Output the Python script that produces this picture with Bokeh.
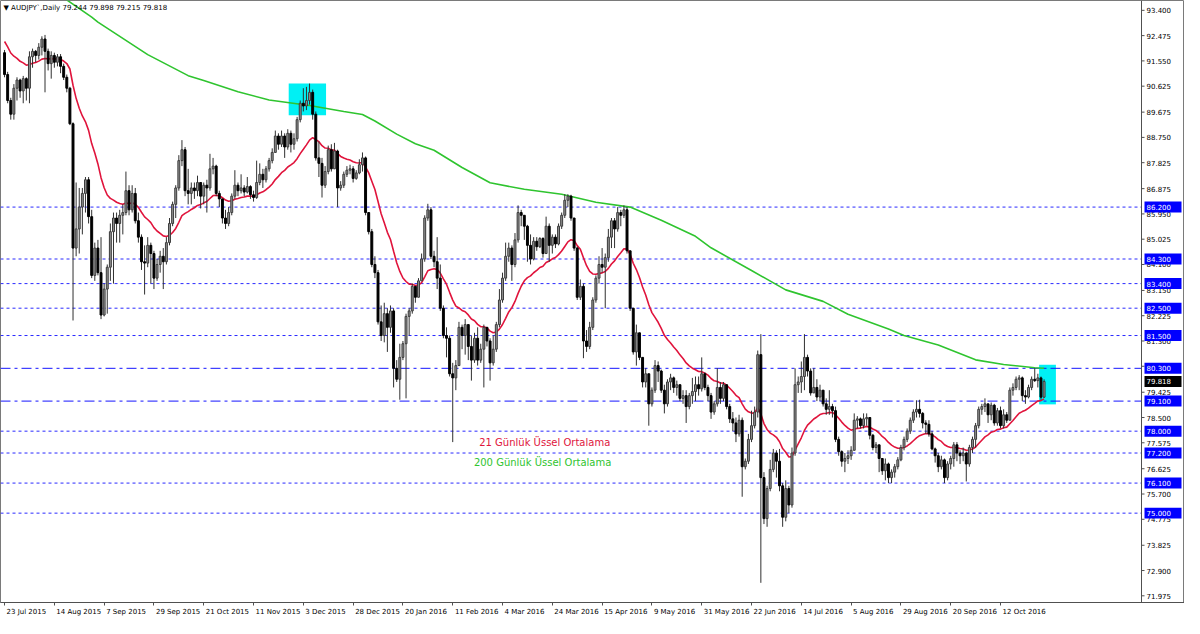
from bokeh.plotting import figure
from bokeh.models import ColumnDataSource, FixedTicker, Label, Range1d
from bokeh.embed import file_html
from bokeh.resources import INLINE
from bokeh.core.properties import value

# ---------------- data ----------------
first_open = 91.85
closes = [
    91.05, 90.10, 89.60, 90.55, 90.85, 90.45, 90.90, 90.55, 91.70, 91.90,
    91.75, 92.05, 92.35, 91.90, 91.45, 91.75, 91.50, 91.70, 91.35, 90.95,
    90.55, 89.25, 84.70, 85.40, 86.20, 86.70, 87.20, 85.85, 83.70, 84.70,
    83.80, 82.25, 83.20, 84.00, 85.30, 85.80, 85.60, 85.90, 86.00, 86.80,
    86.10, 86.70, 85.70, 85.10, 84.20, 84.15, 84.80, 84.50, 83.60, 84.10,
    84.40, 84.20, 84.90, 85.60, 86.30, 86.90, 87.90, 88.30, 86.80, 86.70,
    86.90, 86.80, 87.10, 86.60, 87.00, 86.90, 87.60, 87.70, 86.70, 86.50,
    85.80, 85.60, 86.00, 86.60, 87.00, 86.80, 86.90, 86.75, 86.95, 86.65,
    86.55, 87.10, 87.40, 87.20, 87.60, 87.90, 88.20, 88.80, 88.50, 88.80,
    88.40, 88.90, 88.50, 88.70, 89.40, 90.00, 89.90, 90.10, 90.40, 89.60,
    88.00, 87.80, 87.00, 87.50, 88.30, 87.60, 88.25, 86.90, 87.00, 87.40,
    87.55, 87.60, 87.25, 87.45, 87.75, 88.00, 86.00, 85.30, 84.10, 83.80,
    82.00, 81.50, 82.30, 81.80, 82.40, 80.30, 79.90, 80.70, 81.20, 82.20,
    82.40, 83.30, 82.90, 83.50, 84.30, 85.80, 86.10, 84.40, 84.20, 83.60,
    82.50, 81.50, 81.40, 80.10, 79.95, 80.40, 81.80, 81.50, 81.90, 81.10,
    80.60, 81.40, 80.60, 81.00, 81.80, 81.30, 80.50, 81.00, 81.90, 82.80,
    83.60, 84.40, 84.70, 84.10, 85.00, 86.00, 85.90, 85.50, 84.80, 84.30,
    84.95, 84.75, 85.05, 84.50, 85.50, 84.80, 85.10, 84.85, 85.50, 85.90,
    86.45, 86.60, 85.80, 84.70, 82.90, 83.30, 81.30, 81.10, 81.80, 82.80,
    83.60, 84.10, 84.00, 84.35, 85.10, 85.70, 85.40, 86.00, 85.90, 86.10,
    84.60, 82.50, 80.90, 81.60, 80.70, 79.80, 80.10, 79.00, 79.50, 80.40,
    80.20, 79.50, 79.00, 79.80, 79.95, 79.60, 79.70, 79.20, 79.30, 78.90,
    79.30, 79.45, 79.70, 79.55, 80.10, 79.60, 79.30, 78.70, 79.00, 79.60,
    79.20, 79.70, 78.90, 78.45, 78.30, 77.90, 78.40, 76.70, 76.90, 77.70,
    78.20, 78.70, 80.80, 76.30, 74.80, 75.90, 76.60, 77.20, 76.90, 76.00,
    74.85, 75.90, 75.30, 77.20, 79.70, 79.80, 80.00, 80.70, 80.20, 79.40,
    79.60, 79.25, 79.50, 79.00, 78.80, 78.90, 78.75, 77.70, 77.25, 76.90,
    77.00, 77.10, 77.30, 78.40, 78.45, 78.20, 78.45, 78.50, 77.85, 77.40,
    77.50, 77.00, 76.55, 76.80, 76.30, 76.50, 76.70, 76.95, 77.40, 77.70,
    78.00, 78.40, 78.70, 78.80, 78.65, 78.30, 78.25, 77.90, 77.35, 77.10,
    76.70, 76.95, 76.30, 76.80, 77.00, 77.50, 77.20, 77.10, 77.20, 76.80,
    77.40, 77.70, 78.20, 78.80, 78.90, 79.00, 78.60, 78.95, 78.30, 78.75,
    78.20, 78.60, 78.40, 79.50, 79.60, 79.90, 79.95, 79.30, 79.25, 79.60,
    79.90, 79.85, 79.95, 79.244, 79.818,
]
highs = [
    91.95, 91.15, 90.20, 90.70, 90.95, 90.90, 91.00, 90.95, 91.90, 92.00,
    91.95, 92.20, 92.45, 92.50, 92.00, 91.90, 91.85, 91.80, 91.80, 91.45,
    91.05, 90.60, 89.30, 87.10, 86.90, 86.90, 87.30, 87.30, 86.10, 84.90,
    85.00, 85.10, 83.40, 84.10, 85.60, 86.00, 86.00, 86.10, 86.30, 87.50,
    87.00, 87.00, 86.90, 86.00, 85.20, 84.80, 85.10, 84.90, 84.60, 84.30,
    84.60, 84.70, 85.10, 85.80, 86.40, 87.00, 88.10, 88.65, 88.40, 87.60,
    87.10, 87.10, 87.35, 87.10, 87.10, 87.20, 88.15, 88.00, 87.75, 86.80,
    86.50, 86.10, 86.20, 86.70, 87.55, 87.10, 87.40, 87.00, 87.30, 87.00,
    86.80, 87.90, 87.80, 87.60, 87.70, 88.00, 88.35, 89.00, 88.90, 89.00,
    88.90, 89.05, 89.00, 88.90, 89.50, 90.10, 90.55, 90.60, 90.72, 90.50,
    89.70, 88.60, 88.00, 87.70, 88.45, 88.50, 88.55, 88.30, 87.15, 87.50,
    87.70, 87.75, 87.70, 87.55, 87.95, 88.20, 88.05, 86.00, 85.40, 84.40,
    83.90, 82.60, 82.70, 82.50, 82.60, 82.50, 80.60, 81.20, 81.30, 82.30,
    82.50, 83.40, 83.30, 83.60, 84.50, 85.90, 86.32, 86.20, 84.60, 85.10,
    84.10, 82.60, 81.80, 81.50, 80.50, 80.60, 82.00, 81.90, 82.10, 81.90,
    81.50, 81.60, 81.80, 81.20, 81.90, 81.80, 81.40, 81.50, 82.00, 83.20,
    83.80, 84.90, 84.90, 84.80, 85.25, 86.26, 86.10, 85.90, 85.55, 85.20,
    85.10, 85.10, 85.10, 85.10, 85.85, 85.60, 85.20, 85.20, 85.60, 86.00,
    86.67, 86.67, 86.65, 85.80, 84.75, 83.55, 83.40, 81.70, 82.00, 82.90,
    83.70, 84.40, 84.70, 84.50, 85.40, 85.80, 85.80, 86.20, 86.10, 86.26,
    86.20, 84.60, 82.50, 81.90, 81.60, 80.70, 80.30, 80.10, 79.60, 80.60,
    80.55, 80.25, 79.70, 79.90, 80.10, 80.00, 79.85, 79.70, 79.50, 79.50,
    79.40, 79.95, 80.00, 80.00, 80.70, 80.15, 79.70, 79.40, 79.10, 80.30,
    79.80, 79.80, 79.70, 79.00, 78.70, 78.50, 78.60, 78.50, 77.00, 77.90,
    78.75, 78.90, 80.95, 81.55, 76.50, 76.00, 76.95, 77.35, 77.30, 77.35,
    76.10, 76.20, 76.00, 77.40, 80.30, 80.00, 80.55, 81.55, 80.80, 80.30,
    80.30, 79.90, 79.70, 79.50, 79.20, 79.50, 79.00, 78.90, 77.80, 77.30,
    77.20, 77.30, 77.45, 78.65, 78.55, 78.50, 78.65, 78.65, 78.50, 77.90,
    77.60, 77.50, 77.00, 77.00, 76.85, 76.60, 76.80, 77.05, 77.50, 77.80,
    78.10, 78.50, 78.80, 79.13, 79.15, 78.70, 78.40, 78.40, 78.00, 77.40,
    77.20, 77.10, 77.00, 76.90, 77.10, 77.60, 77.60, 77.30, 77.40, 77.25,
    77.50, 77.80, 78.30, 78.90, 79.00, 79.20, 79.00, 79.05, 79.00, 78.85,
    78.90, 78.80, 78.70, 79.60, 79.75, 80.00, 80.05, 80.00, 79.50, 79.70,
    80.00, 80.30, 80.10, 80.00, 79.898,
]
lows = [
    90.95, 90.00, 89.40, 89.40, 90.10, 90.20, 90.00, 90.10, 90.00, 91.30,
    91.50, 91.60, 91.75, 90.40, 91.20, 90.90, 91.30, 91.35, 91.10, 90.85,
    90.40, 89.20, 82.05, 84.40, 84.50, 85.20, 86.00, 85.60, 83.60, 83.50,
    83.70, 82.10, 82.20, 82.30, 83.50, 83.40, 84.90, 84.90, 85.20, 85.90,
    85.90, 86.00, 85.60, 84.90, 83.90, 83.00, 84.00, 83.40, 83.20, 83.50,
    83.80, 83.20, 84.10, 84.80, 85.50, 85.80, 86.80, 87.70, 86.60, 86.30,
    86.30, 86.50, 86.60, 86.15, 86.30, 86.00, 86.80, 87.40, 86.60, 86.20,
    85.60, 85.40, 85.50, 85.90, 86.50, 86.60, 86.70, 86.60, 86.70, 86.50,
    86.40, 86.50, 87.00, 86.90, 87.10, 87.50, 87.80, 88.20, 88.30, 88.40,
    88.00, 88.30, 88.20, 88.30, 88.60, 89.30, 89.70, 89.75, 89.95, 89.40,
    87.90, 87.30, 86.55, 86.90, 87.40, 87.50, 87.60, 86.20, 86.80, 86.90,
    87.30, 87.40, 87.10, 87.20, 87.40, 87.50, 85.90, 85.20, 84.00, 83.60,
    81.90, 81.30, 81.25, 80.90, 81.60, 79.60, 79.80, 79.15, 80.60, 79.20,
    81.50, 82.30, 82.70, 82.90, 83.50, 84.20, 85.70, 84.30, 84.00, 83.20,
    82.40, 81.40, 80.70, 80.00, 77.60, 79.50, 80.40, 81.00, 80.80, 80.60,
    79.85, 80.50, 80.40, 80.50, 79.60, 81.10, 79.85, 80.40, 80.90, 81.80,
    82.70, 83.50, 84.20, 83.50, 84.00, 84.90, 85.50, 85.00, 84.20, 84.10,
    84.25, 84.60, 84.70, 84.35, 84.50, 84.20, 84.50, 84.70, 84.80, 85.40,
    85.80, 86.20, 85.70, 84.60, 82.80, 82.80, 80.67, 80.90, 81.00, 81.70,
    82.70, 83.40, 83.80, 82.50, 84.20, 84.70, 84.70, 85.30, 85.50, 85.80,
    84.50, 82.40, 80.80, 80.40, 80.60, 79.60, 79.60, 78.20, 78.90, 79.40,
    79.80, 79.40, 78.65, 78.90, 79.50, 79.40, 79.30, 79.10, 79.00, 78.30,
    78.80, 79.00, 79.10, 79.30, 79.45, 79.50, 79.10, 78.45, 78.60, 78.90,
    79.00, 79.10, 78.80, 78.30, 78.00, 77.60, 77.80, 75.60, 76.60, 76.80,
    77.60, 78.10, 78.50, 72.45, 74.60, 74.50, 75.80, 76.50, 76.30, 75.80,
    74.50, 74.70, 75.00, 75.20, 77.10, 79.40, 79.40, 79.50, 80.00, 79.30,
    79.40, 79.10, 79.10, 78.90, 78.60, 78.60, 78.50, 77.60, 77.10, 76.70,
    76.50, 76.80, 76.95, 77.30, 78.10, 78.10, 78.10, 78.20, 77.70, 77.30,
    77.20, 76.50, 76.40, 76.20, 76.10, 76.10, 76.30, 76.60, 76.90, 77.30,
    77.60, 77.90, 78.30, 78.50, 78.50, 78.10, 77.90, 77.80, 77.30, 76.85,
    76.50, 76.60, 76.10, 76.20, 76.60, 76.70, 76.90, 76.80, 76.90, 76.16,
    76.70, 77.20, 77.40, 78.10, 78.60, 78.70, 78.30, 78.40, 78.20, 78.20,
    78.10, 78.10, 78.30, 78.40, 79.30, 79.50, 79.50, 79.10, 79.00, 79.20,
    79.50, 79.80, 79.60, 79.15, 79.215,
]

date_labels = ["23 Jul 2015", "14 Aug 2015", "7 Sep 2015", "29 Sep 2015", "21 Oct 2015",
               "11 Nov 2015", "3 Dec 2015", "28 Dec 2015", "20 Jan 2016", "11 Feb 2016",
               "4 Mar 2016", "24 Mar 2016", "15 Apr 2016", "9 May 2016", "31 May 2016",
               "22 Jun 2016", "14 Jul 2016", "5 Aug 2016", "29 Aug 2016", "20 Sep 2016",
               "12 Oct 2016"]
bars_per_label = 16

price_ticks = [93.400, 92.475, 91.550, 90.625, 89.675, 88.750, 87.825, 86.875, 85.950,
               85.025, 84.100, 83.150, 82.225, 81.300, 80.375, 79.425, 78.500, 77.575,
               76.625, 75.700, 74.775, 73.825, 72.900, 71.975]

dotted_levels = [86.2, 84.3, 83.4, 82.5, 81.5, 78.0, 77.2, 76.1, 75.0]
dashdot_levels = [80.3, 79.1]
last_price = 79.818

ema21_seed = 92.38
ema200_bars = [19, 28, 30, 46, 59, 64, 75, 85, 98, 109, 115, 119, 126, 132, 138, 147,
               156, 167, 179, 190, 201, 211, 222, 227, 240, 251, 263, 271, 284, 289,
               300, 312, 321, 331, 334]
ema200_vals = [93.86, 93.15, 92.97, 91.78, 91.01, 90.83, 90.42, 90.12, 89.92, 89.70,
               89.59, 89.35, 88.87, 88.52, 88.28, 87.65, 87.09, 86.85, 86.67, 86.38,
               86.20, 85.72, 85.13, 84.71, 83.88, 83.17, 82.75, 82.28, 81.74, 81.50,
               81.15, 80.61, 80.44, 80.32, 80.30]

zone_left = [91.3, 332.4]
zone_right = [103.3, 337.8]
zone_top = [90.72, 80.43]
zone_bottom = [89.56, 78.98]

header_text = "\u25bc AUDJPY`,Daily  79.244 79.898 79.215 79.818"
ema21_text = "21 G\u00fcnl\u00fck \u00dcssel Ortalama"
ema200_text = "200 G\u00fcnl\u00fck \u00dcssel Ortalama"

# ---------------- layout constants ----------------
W, H = 1184, 618
AXIS_PX = 1141            # x pixel (inside frame) of the price scale line
X0, XA = -1.3, 365.3      # bar coordinate at left frame edge and at the price scale line
PPU = AXIS_PX / (XA - X0)
X1 = X0 + W / PPU
Y0, Y1 = 71.73, 93.76
FRAME_H = H - 14
PPY = FRAME_H / (Y1 - Y0)
FONT = "DejaVu Sans"
SMALL = "7px"

# ---------------- derived ----------------
n = len(closes)
xs = list(range(n))
opens = [first_open] + closes[:-1]
tops, bots, fills, lines = [], [], [], []
for o, c in zip(opens, closes):
    t, b = max(o, c), min(o, c)
    if t - b < 0.025:
        t = b + 0.025
    tops.append(t)
    bots.append(b)
    if c >= o:
        fills.append("#929292"); lines.append("#3c3c3c")
    else:
        fills.append("#000000"); lines.append("#000000")

ema21 = []
e = ema21_seed
k = 2.0 / 22.0
for c in closes:
    e = e + k * (c - e)
    ema21.append(e)

src = ColumnDataSource(dict(x=xs, h=highs, l=lows, top=tops, bot=bots, fill=fills, line=lines))

p = figure(width=W, height=H, output_backend="svg", toolbar_location=None,
           x_range=Range1d(X0, X1), y_range=Range1d(Y0, Y1), y_axis_location=None,
           min_border_left=0, min_border_top=0, min_border_right=0, min_border_bottom=0)
p.background_fill_color = "white"
p.border_fill_color = "white"
p.outline_line_color = "#7a7a7a"
p.xgrid.visible = False
p.ygrid.visible = False

# highlight zones
p.quad(left=zone_left, right=zone_right, top=zone_top, bottom=zone_bottom,
       fill_color="#00f0f4", line_color=None)

# horizontal levels (stop at the price scale)
p.segment(x0=[X0] * len(dotted_levels), y0=dotted_levels, x1=[XA] * len(dotted_levels),
          y1=dotted_levels, line_color="#2a2aff", line_width=1, line_dash="3 3")
p.segment(x0=[X0] * len(dashdot_levels), y0=dashdot_levels, x1=[XA] * len(dashdot_levels),
          y1=dashdot_levels, line_color="#1515ff", line_width=1, line_dash="10 4 3 4")

# moving averages
p.line(ema200_bars, ema200_vals, line_color="#2fc42f", line_width=1.6)
p.line(xs, ema21, line_color="#e0143c", line_width=1.6)

# candles
p.segment(x0="x", y0="l", x1="x", y1="h", source=src, line_color="#303030", line_width=1)
p.vbar(x="x", width=0.62, top="top", bottom="bot", fill_color="fill", line_color="line",
       line_width=1, source=src)

# annotation texts
p.text(x=[152.5], y=[77.57], text=[ema21_text], text_color="#e0143c",
       text_font=value(FONT), text_font_size="10px", text_baseline="middle")
p.text(x=[150.8], y=[76.86], text=[ema200_text], text_color="#2fc42f",
       text_font=value(FONT), text_font_size="10px", text_baseline="middle")

p.add_layout(Label(x=X0, y=Y1, x_offset=3, y_offset=-7, text=header_text,
                   text_font=FONT, text_font_size=SMALL, text_color="black",
                   text_baseline="middle", text_align="left"))

# ---------------- price scale on the right ----------------
p.segment(x0=[XA], y0=[Y0], x1=[XA], y1=[Y1], line_color="#505050", line_width=1)
p.segment(x0=[XA] * len(price_ticks), y0=price_ticks,
          x1=[XA + 3 / PPU] * len(price_ticks), y1=price_ticks,
          line_color="#505050", line_width=1)
p.text(x=[XA + 5 / PPU] * len(price_ticks), y=price_ticks,
       text=[f"{t:.3f}" for t in price_ticks], text_color="black",
       text_font=value(FONT), text_font_size=SMALL, text_baseline="middle")

tag_levels = dotted_levels + dashdot_levels
tag_h = 5.5 / PPY
p.quad(left=[XA + 3 / PPU] * len(tag_levels), right=[XA + 40 / PPU] * len(tag_levels),
       top=[v + tag_h for v in tag_levels], bottom=[v - tag_h for v in tag_levels],
       fill_color="#0000ff", line_color=None)
p.text(x=[XA + 5 / PPU] * len(tag_levels), y=tag_levels,
       text=[f"{v:.3f}" for v in tag_levels], text_color="white",
       text_font=value(FONT), text_font_size=SMALL, text_baseline="middle")
p.quad(left=[XA + 3 / PPU], right=[XA + 40 / PPU], top=[last_price + tag_h],
       bottom=[last_price - tag_h], fill_color="#000000", line_color=None)
p.text(x=[XA + 5 / PPU], y=[last_price], text=[f"{last_price:.3f}"], text_color="white",
       text_font=value(FONT), text_font_size=SMALL, text_baseline="middle")

# ---------------- time scale ----------------
em = {"0": .636, "1": .636, "2": .636, "3": .636, "4": .636, "5": .636, "6": .636,
      "7": .636, "8": .636, "9": .636, " ": .318, "J": .295, "u": .634, "l": .278,
      "A": .684, "g": .635, "S": .635, "e": .615, "p": .635, "O": .787, "c": .55,
      "t": .392, "N": .748, "o": .612, "v": .592, "D": .77, "F": .575, "b": .635,
      "M": .863, "a": .613, "r": .411, "y": .592, "n": .634}
tick_pos = [i * bars_per_label for i in range(len(date_labels))]
centers = []
for t, lab in zip(tick_pos, date_labels):
    w = sum(em.get(ch, 0.6) for ch in lab) * 7.0
    centers.append(t + (w / 2 + 2) / PPU)

xax = p.xaxis[0]
xax.ticker = FixedTicker(ticks=centers, minor_ticks=tick_pos)
xax.major_label_overrides = {c: lab for c, lab in zip(centers, date_labels)}
xax.major_label_text_font = FONT
xax.major_label_text_font_size = SMALL
xax.major_label_text_color = "black"
xax.axis_line_color = "#505050"
xax.major_tick_line_color = None
xax.major_tick_in = 0
xax.major_tick_out = 3
xax.minor_tick_line_color = "#505050"
xax.minor_tick_in = 0
xax.minor_tick_out = 3
xax.major_label_standoff = 2

open("out.html", "w").write(file_html(p, INLINE))
